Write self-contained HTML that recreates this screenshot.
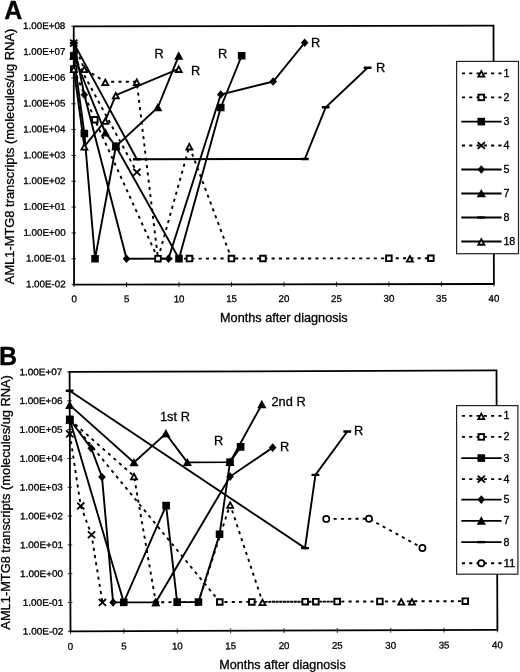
<!DOCTYPE html>
<html><head><meta charset="utf-8"><title>AML1-MTG8 transcripts</title>
<style>
html,body{margin:0;padding:0;background:#fff;}
svg{display:block;font-family:'Liberation Sans', Arial, Helvetica, sans-serif;fill:#000;}
text{stroke:#000;stroke-width:0.3px;}
</style></head><body>
<svg width="520" height="672" viewBox="0 0 520 672">
<rect width="520" height="672" fill="#fff"/>
<g transform="rotate(-0.08 283.8 155.2)">
<rect x="73.9" y="26" width="419.8" height="258.3" fill="none" stroke="#000" stroke-width="1.8"/>
<path d="M71.4 26 H75.9" stroke="#000" stroke-width="0.8"/>
<text x="65.5" y="28.7" font-size="9.5" text-anchor="end" textLength="42.2" lengthAdjust="spacingAndGlyphs">1.00E+08</text>
<path d="M71.4 51.83 H75.9" stroke="#000" stroke-width="0.8"/>
<text x="65.5" y="54.53" font-size="9.5" text-anchor="end" textLength="42.2" lengthAdjust="spacingAndGlyphs">1.00E+07</text>
<path d="M71.4 77.66 H75.9" stroke="#000" stroke-width="0.8"/>
<text x="65.5" y="80.36" font-size="9.5" text-anchor="end" textLength="42.2" lengthAdjust="spacingAndGlyphs">1.00E+06</text>
<path d="M71.4 103.49 H75.9" stroke="#000" stroke-width="0.8"/>
<text x="65.5" y="106.19" font-size="9.5" text-anchor="end" textLength="42.2" lengthAdjust="spacingAndGlyphs">1.00E+05</text>
<path d="M71.4 129.32 H75.9" stroke="#000" stroke-width="0.8"/>
<text x="65.5" y="132.02" font-size="9.5" text-anchor="end" textLength="42.2" lengthAdjust="spacingAndGlyphs">1.00E+04</text>
<path d="M71.4 155.15 H75.9" stroke="#000" stroke-width="0.8"/>
<text x="65.5" y="157.85" font-size="9.5" text-anchor="end" textLength="42.2" lengthAdjust="spacingAndGlyphs">1.00E+03</text>
<path d="M71.4 180.98 H75.9" stroke="#000" stroke-width="0.8"/>
<text x="65.5" y="183.68" font-size="9.5" text-anchor="end" textLength="42.2" lengthAdjust="spacingAndGlyphs">1.00E+02</text>
<path d="M71.4 206.81 H75.9" stroke="#000" stroke-width="0.8"/>
<text x="65.5" y="209.51" font-size="9.5" text-anchor="end" textLength="42.2" lengthAdjust="spacingAndGlyphs">1.00E+01</text>
<path d="M71.4 232.64 H75.9" stroke="#000" stroke-width="0.8"/>
<text x="65.5" y="235.34" font-size="9.5" text-anchor="end" textLength="42.2" lengthAdjust="spacingAndGlyphs">1.00E+00</text>
<path d="M71.4 258.47 H75.9" stroke="#000" stroke-width="0.8"/>
<text x="65.5" y="261.17" font-size="9.5" text-anchor="end" textLength="39.74" lengthAdjust="spacingAndGlyphs">1.00E-01</text>
<path d="M71.4 284.3 H75.9" stroke="#000" stroke-width="0.8"/>
<text x="65.5" y="287" font-size="9.5" text-anchor="end" textLength="39.74" lengthAdjust="spacingAndGlyphs">1.00E-02</text>
<path d="M73.9 281.8 V286.8" stroke="#000" stroke-width="0.8"/>
<text x="73.9" y="302" font-size="9.7" text-anchor="middle">0</text>
<path d="M126.38 281.8 V286.8" stroke="#000" stroke-width="0.8"/>
<text x="126.38" y="302" font-size="9.7" text-anchor="middle">5</text>
<path d="M178.85 281.8 V286.8" stroke="#000" stroke-width="0.8"/>
<text x="178.85" y="302" font-size="9.7" text-anchor="middle">10</text>
<path d="M231.32 281.8 V286.8" stroke="#000" stroke-width="0.8"/>
<text x="231.32" y="302" font-size="9.7" text-anchor="middle">15</text>
<path d="M283.8 281.8 V286.8" stroke="#000" stroke-width="0.8"/>
<text x="283.8" y="302" font-size="9.7" text-anchor="middle">20</text>
<path d="M336.27 281.8 V286.8" stroke="#000" stroke-width="0.8"/>
<text x="336.27" y="302" font-size="9.7" text-anchor="middle">25</text>
<path d="M388.75 281.8 V286.8" stroke="#000" stroke-width="0.8"/>
<text x="388.75" y="302" font-size="9.7" text-anchor="middle">30</text>
<path d="M441.23 281.8 V286.8" stroke="#000" stroke-width="0.8"/>
<text x="441.23" y="302" font-size="9.7" text-anchor="middle">35</text>
<path d="M493.7 281.8 V286.8" stroke="#000" stroke-width="0.8"/>
<text x="493.7" y="302" font-size="9.7" text-anchor="middle">40</text>
<path d="M73.9 42.79 L84.4 68.62 L105.39 81.53 L136.87 81.53 L157.86 258.47 L189.34 146.11 L231.32 258.47 M409.74 258.47" fill="none" stroke="#000" stroke-width="1.9" stroke-dasharray="3.1 4.2"/>
<path d="M73.9 68.62 L94.89 119.5 L157.86 258.47 L189.34 258.47 L231.32 258.47 L262.81 258.47 L388.75 258.47 L430.73 258.47" fill="none" stroke="#000" stroke-width="1.9" stroke-dasharray="3.1 4.2"/>
<path d="M73.9 55.7 L84.4 133.19 L94.89 258.47 L115.88 146.11 L178.85 258.47 L220.83 107.36 L241.82 55.7" fill="none" stroke="#000" stroke-width="1.9"/>
<path d="M73.9 42.79 M73.9 55.7 L136.87 171.94" fill="none" stroke="#000" stroke-width="1.9" stroke-dasharray="3.1 4.2"/>
<path d="M73.9 42.79 L84.4 94.45 L126.38 258.47 L168.36 258.47 L220.83 94.45 L273.3 81.53 L304.79 42.79" fill="none" stroke="#000" stroke-width="1.9"/>
<path d="M73.9 55.7 L105.39 132.42 L115.88 146.11 L157.86 107.36 L178.85 55.7" fill="none" stroke="#000" stroke-width="1.9"/>
<path d="M73.9 42.79 L136.87 159.02 L304.79 159.02 L325.78 107.36 L367.76 67.84" fill="none" stroke="#000" stroke-width="1.9"/>
<path d="M73.9 68.62 L84.4 146.11 L105.39 120.28 L115.88 94.97 L178.85 68.62" fill="none" stroke="#000" stroke-width="1.9"/>
<path d="M84.4 66.36 L87.39 71.87 L81.41 71.87 Z" fill="#fff" stroke="#000" stroke-width="1.8" stroke-linejoin="miter"/>
<path d="M105.39 79.27 L108.38 84.78 L102.4 84.78 Z" fill="#fff" stroke="#000" stroke-width="1.8" stroke-linejoin="miter"/>
<path d="M136.87 79.27 L139.86 84.78 L133.88 84.78 Z" fill="#fff" stroke="#000" stroke-width="1.8" stroke-linejoin="miter"/>
<path d="M189.34 143.85 L192.34 149.36 L186.35 149.36 Z" fill="#fff" stroke="#000" stroke-width="1.8" stroke-linejoin="miter"/>
<path d="M409.74 256.21 L412.73 261.72 L406.75 261.72 Z" fill="#fff" stroke="#000" stroke-width="1.8" stroke-linejoin="miter"/>
<rect x="71.1" y="65.82" width="5.6" height="5.6" fill="#fff" stroke="#000" stroke-width="1.9"/>
<rect x="92.09" y="116.7" width="5.6" height="5.6" fill="#fff" stroke="#000" stroke-width="1.9"/>
<rect x="155.06" y="255.67" width="5.6" height="5.6" fill="#fff" stroke="#000" stroke-width="1.9"/>
<rect x="186.54" y="255.67" width="5.6" height="5.6" fill="#fff" stroke="#000" stroke-width="1.9"/>
<rect x="228.52" y="255.67" width="5.6" height="5.6" fill="#fff" stroke="#000" stroke-width="1.9"/>
<rect x="260.01" y="255.67" width="5.6" height="5.6" fill="#fff" stroke="#000" stroke-width="1.9"/>
<rect x="385.95" y="255.67" width="5.6" height="5.6" fill="#fff" stroke="#000" stroke-width="1.9"/>
<rect x="427.93" y="255.67" width="5.6" height="5.6" fill="#fff" stroke="#000" stroke-width="1.9"/>
<rect x="70.1" y="51.9" width="7.6" height="7.6" fill="#000"/>
<rect x="80.6" y="129.39" width="7.6" height="7.6" fill="#000"/>
<rect x="91.09" y="254.67" width="7.6" height="7.6" fill="#000"/>
<rect x="112.08" y="142.31" width="7.6" height="7.6" fill="#000"/>
<rect x="175.05" y="254.67" width="7.6" height="7.6" fill="#000"/>
<rect x="217.03" y="103.56" width="7.6" height="7.6" fill="#000"/>
<rect x="238.02" y="51.9" width="7.6" height="7.6" fill="#000"/>
<path d="M70.3 39.39 L77.5 46.19 M70.3 46.19 L77.5 39.39" stroke="#000" stroke-width="1.8" fill="none"/>
<path d="M70.3 52.3 L77.5 59.1 M70.3 59.1 L77.5 52.3" stroke="#000" stroke-width="1.8" fill="none"/>
<path d="M133.27 168.54 L140.47 175.34 M133.27 175.34 L140.47 168.54" stroke="#000" stroke-width="1.8" fill="none"/>
<path d="M73.9 38.49 L77.7 42.79 L73.9 47.09 L70.1 42.79 Z" fill="#000"/>
<path d="M84.4 90.15 L88.2 94.45 L84.4 98.75 L80.6 94.45 Z" fill="#000"/>
<path d="M126.38 254.17 L130.18 258.47 L126.38 262.77 L122.58 258.47 Z" fill="#000"/>
<path d="M168.36 254.17 L172.16 258.47 L168.36 262.77 L164.56 258.47 Z" fill="#000"/>
<path d="M220.83 90.15 L224.63 94.45 L220.83 98.75 L217.03 94.45 Z" fill="#000"/>
<path d="M273.3 77.23 L277.1 81.53 L273.3 85.83 L269.5 81.53 Z" fill="#000"/>
<path d="M304.79 38.49 L308.59 42.79 L304.79 47.09 L300.99 42.79 Z" fill="#000"/>
<path d="M73.9 51.1 L78.5 59.5 L69.3 59.5 Z" fill="#000"/>
<path d="M105.39 127.82 L109.98 136.22 L100.79 136.22 Z" fill="#000"/>
<path d="M115.88 141.51 L120.48 149.91 L111.28 149.91 Z" fill="#000"/>
<path d="M157.86 102.76 L162.46 111.16 L153.26 111.16 Z" fill="#000"/>
<path d="M178.85 51.1 L183.45 59.5 L174.25 59.5 Z" fill="#000"/>
<path d="M70 42.79 L77.8 42.79" stroke="#000" stroke-width="2.4"/>
<path d="M132.97 159.02 L140.77 159.02" stroke="#000" stroke-width="2.4"/>
<path d="M300.89 159.02 L308.69 159.02" stroke="#000" stroke-width="2.4"/>
<path d="M321.88 107.36 L329.68 107.36" stroke="#000" stroke-width="2.4"/>
<path d="M363.86 67.84 L371.66 67.84" stroke="#000" stroke-width="2.4"/>
<path d="M73.9 66.36 L76.89 71.87 L70.91 71.87 Z" fill="#fff" stroke="#000" stroke-width="1.8" stroke-linejoin="miter"/>
<path d="M84.4 143.85 L87.39 149.36 L81.41 149.36 Z" fill="#fff" stroke="#000" stroke-width="1.8" stroke-linejoin="miter"/>
<path d="M105.39 118.02 L108.38 123.53 L102.4 123.53 Z" fill="#fff" stroke="#000" stroke-width="1.8" stroke-linejoin="miter"/>
<path d="M115.88 92.71 L118.87 98.22 L112.89 98.22 Z" fill="#fff" stroke="#000" stroke-width="1.8" stroke-linejoin="miter"/>
<path d="M178.85 66.36 L181.84 71.87 L175.86 71.87 Z" fill="#fff" stroke="#000" stroke-width="1.8" stroke-linejoin="miter"/>
</g>
<text x="220" y="322.3" font-size="12.8" text-anchor="start" textLength="127.7" lengthAdjust="spacingAndGlyphs">Months after diagnosis</text>
<text transform="translate(13.8 156.45) rotate(-90)" font-size="12.8" text-anchor="middle" textLength="255.5" lengthAdjust="spacingAndGlyphs">AML1-MTG8 transcripts (molecules/ug RNA)</text>
<text x="154.6" y="57.8" font-size="12.8" text-anchor="start">R</text>
<text x="191" y="74.8" font-size="12.8" text-anchor="start">R</text>
<text x="218" y="58.3" font-size="12.8" text-anchor="start">R</text>
<text x="311" y="47" font-size="12.8" text-anchor="start">R</text>
<text x="376" y="72" font-size="12.8" text-anchor="start">R</text>
<rect x="456.6" y="61.4" width="61.9" height="192.3" fill="#fff" stroke="#222" stroke-width="1.2"/>
<path d="M461.3 73.4 H501.6" fill="none" stroke="#000" stroke-width="1.9" stroke-dasharray="3.1 4.2" stroke-dashoffset="6.7"/>
<path d="M481.3 71.14 L484.29 76.65 L478.31 76.65 Z" fill="#fff" stroke="#000" stroke-width="1.8" stroke-linejoin="miter"/>
<text x="503.4" y="76.9" font-size="10.2" text-anchor="start" textLength="5.95" lengthAdjust="spacingAndGlyphs">1</text>
<path d="M461.3 97.4 H501.6" fill="none" stroke="#000" stroke-width="1.9" stroke-dasharray="3.1 4.2" stroke-dashoffset="6.7"/>
<rect x="478.5" y="94.6" width="5.6" height="5.6" fill="#fff" stroke="#000" stroke-width="1.9"/>
<text x="503.4" y="100.9" font-size="10.2" text-anchor="start" textLength="5.95" lengthAdjust="spacingAndGlyphs">2</text>
<path d="M461.3 121.6 H501.6" fill="none" stroke="#000" stroke-width="1.9"/>
<rect x="477.5" y="117.8" width="7.6" height="7.6" fill="#000"/>
<text x="503.4" y="125.1" font-size="10.2" text-anchor="start" textLength="5.95" lengthAdjust="spacingAndGlyphs">3</text>
<path d="M461.3 145.5 H501.6" fill="none" stroke="#000" stroke-width="1.9" stroke-dasharray="3.1 4.2" stroke-dashoffset="6.7"/>
<path d="M477.7 142.1 L484.9 148.9 M477.7 148.9 L484.9 142.1" stroke="#000" stroke-width="1.8" fill="none"/>
<text x="503.4" y="149" font-size="10.2" text-anchor="start" textLength="5.95" lengthAdjust="spacingAndGlyphs">4</text>
<path d="M461.3 169.5 H501.6" fill="none" stroke="#000" stroke-width="1.9"/>
<path d="M481.3 165.2 L485.1 169.5 L481.3 173.8 L477.5 169.5 Z" fill="#000"/>
<text x="503.4" y="173" font-size="10.2" text-anchor="start" textLength="5.95" lengthAdjust="spacingAndGlyphs">5</text>
<path d="M461.3 193.5 H501.6" fill="none" stroke="#000" stroke-width="1.9"/>
<path d="M481.3 188.9 L485.9 197.3 L476.7 197.3 Z" fill="#000"/>
<text x="503.4" y="197" font-size="10.2" text-anchor="start" textLength="5.95" lengthAdjust="spacingAndGlyphs">7</text>
<path d="M461.3 217.5 H501.6" fill="none" stroke="#000" stroke-width="1.9"/>
<path d="M477.4 217.5 L485.2 217.5" stroke="#000" stroke-width="2.4"/>
<text x="503.4" y="221" font-size="10.2" text-anchor="start" textLength="5.95" lengthAdjust="spacingAndGlyphs">8</text>
<path d="M461.3 241.5 H501.6" fill="none" stroke="#000" stroke-width="1.9"/>
<path d="M481.3 239.24 L484.29 244.75 L478.31 244.75 Z" fill="#fff" stroke="#000" stroke-width="1.8" stroke-linejoin="miter"/>
<text x="503.4" y="245" font-size="10.2" text-anchor="start" textLength="11.91" lengthAdjust="spacingAndGlyphs">18</text>
<text x="4.2" y="18.5" font-size="25" text-anchor="start" font-weight="bold">A</text>
<g transform="rotate(-0.2 283.5 500.9)">
<rect x="70.05" y="371.2" width="426.9" height="259.4" fill="none" stroke="#000" stroke-width="1.8"/>
<path d="M67.55 371.2 H72.05" stroke="#000" stroke-width="0.8"/>
<text x="62.85" y="374.3" font-size="9.3" text-anchor="end" textLength="43" lengthAdjust="spacingAndGlyphs">1.00E+07</text>
<path d="M67.55 400.02 H72.05" stroke="#000" stroke-width="0.8"/>
<text x="62.85" y="403.12" font-size="9.3" text-anchor="end" textLength="43" lengthAdjust="spacingAndGlyphs">1.00E+06</text>
<path d="M67.55 428.84 H72.05" stroke="#000" stroke-width="0.8"/>
<text x="62.85" y="431.94" font-size="9.3" text-anchor="end" textLength="43" lengthAdjust="spacingAndGlyphs">1.00E+05</text>
<path d="M67.55 457.67 H72.05" stroke="#000" stroke-width="0.8"/>
<text x="62.85" y="460.77" font-size="9.3" text-anchor="end" textLength="43" lengthAdjust="spacingAndGlyphs">1.00E+04</text>
<path d="M67.55 486.49 H72.05" stroke="#000" stroke-width="0.8"/>
<text x="62.85" y="489.59" font-size="9.3" text-anchor="end" textLength="43" lengthAdjust="spacingAndGlyphs">1.00E+03</text>
<path d="M67.55 515.31 H72.05" stroke="#000" stroke-width="0.8"/>
<text x="62.85" y="518.41" font-size="9.3" text-anchor="end" textLength="43" lengthAdjust="spacingAndGlyphs">1.00E+02</text>
<path d="M67.55 544.13 H72.05" stroke="#000" stroke-width="0.8"/>
<text x="62.85" y="547.23" font-size="9.3" text-anchor="end" textLength="43" lengthAdjust="spacingAndGlyphs">1.00E+01</text>
<path d="M67.55 572.96 H72.05" stroke="#000" stroke-width="0.8"/>
<text x="62.85" y="576.06" font-size="9.3" text-anchor="end" textLength="43" lengthAdjust="spacingAndGlyphs">1.00E+00</text>
<path d="M67.55 601.78 H72.05" stroke="#000" stroke-width="0.8"/>
<text x="62.85" y="604.88" font-size="9.3" text-anchor="end" textLength="40.5" lengthAdjust="spacingAndGlyphs">1.00E-01</text>
<path d="M67.55 630.6 H72.05" stroke="#000" stroke-width="0.8"/>
<text x="62.85" y="633.7" font-size="9.3" text-anchor="end" textLength="40.5" lengthAdjust="spacingAndGlyphs">1.00E-02</text>
<path d="M70.05 628.1 V633.1" stroke="#000" stroke-width="0.8"/>
<text x="70.05" y="649" font-size="9.7" text-anchor="middle">0</text>
<path d="M123.41 628.1 V633.1" stroke="#000" stroke-width="0.8"/>
<text x="123.41" y="649" font-size="9.7" text-anchor="middle">5</text>
<path d="M176.77 628.1 V633.1" stroke="#000" stroke-width="0.8"/>
<text x="176.77" y="649" font-size="9.7" text-anchor="middle">10</text>
<path d="M230.14 628.1 V633.1" stroke="#000" stroke-width="0.8"/>
<text x="230.14" y="649" font-size="9.7" text-anchor="middle">15</text>
<path d="M283.5 628.1 V633.1" stroke="#000" stroke-width="0.8"/>
<text x="283.5" y="649" font-size="9.7" text-anchor="middle">20</text>
<path d="M336.86 628.1 V633.1" stroke="#000" stroke-width="0.8"/>
<text x="336.86" y="649" font-size="9.7" text-anchor="middle">25</text>
<path d="M390.22 628.1 V633.1" stroke="#000" stroke-width="0.8"/>
<text x="390.22" y="649" font-size="9.7" text-anchor="middle">30</text>
<path d="M443.59 628.1 V633.1" stroke="#000" stroke-width="0.8"/>
<text x="443.59" y="649" font-size="9.7" text-anchor="middle">35</text>
<path d="M496.95 628.1 V633.1" stroke="#000" stroke-width="0.8"/>
<text x="496.95" y="649" font-size="9.7" text-anchor="middle">40</text>
<path d="M70.05 418.76 L134.08 475.54 L155.43 601.78 L198.12 601.78 L230.14 504.36 L262.15 601.78 M400.9 601.78 M411.57 601.78" fill="none" stroke="#000" stroke-width="1.9" stroke-dasharray="3.1 4.2"/>
<path d="M70.05 418.76 L219.46 601.78 L251.48 601.78 L304.84 601.78 L315.52 601.78 L336.86 601.78 L379.55 601.78 L464.93 601.78" fill="none" stroke="#000" stroke-width="1.9" stroke-dasharray="3.1 4.2"/>
<path d="M70.05 418.76 L123.41 601.78 L166.1 505.22 L176.77 601.78 L198.12 601.78 L219.46 534.05 L230.14 461.99 L240.81 446.71" fill="none" stroke="#000" stroke-width="1.9"/>
<path d="M70.05 433.17 L80.72 505.22 L91.39 534.05 L102.07 601.78" fill="none" stroke="#000" stroke-width="1.9" stroke-dasharray="3.1 4.2"/>
<path d="M70.05 418.76 L91.39 447.58 L102.07 476.4 L112.74 601.78 L155.43 601.78 L230.14 476.4 L272.83 447.58" fill="none" stroke="#000" stroke-width="1.9"/>
<path d="M70.05 404.35 L134.08 461.99 L166.1 433.17 L187.45 461.99 L230.14 461.99 L262.15 404.35" fill="none" stroke="#000" stroke-width="1.9"/>
<path d="M70.05 389.93 L304.84 548.17 L315.52 474.96 L347.54 431.73" fill="none" stroke="#000" stroke-width="1.9"/>
<path d="M326.19 519.06 L368.88 519.06 L422.24 548.46" fill="none" stroke="#000" stroke-width="1.9" stroke-dasharray="3.1 4.2"/>
<path d="M262.15 601.78 H336.86" fill="none" stroke="#000" stroke-width="1.9" stroke-dasharray="3.1 4.2" stroke-dashoffset="5.21"/>
<path d="M70.05 416.5 L73.04 422.01 L67.06 422.01 Z" fill="#fff" stroke="#000" stroke-width="1.8" stroke-linejoin="miter"/>
<path d="M134.08 473.28 L137.07 478.79 L131.09 478.79 Z" fill="#fff" stroke="#000" stroke-width="1.8" stroke-linejoin="miter"/>
<path d="M155.43 599.52 L158.42 605.03 L152.44 605.03 Z" fill="#fff" stroke="#000" stroke-width="1.8" stroke-linejoin="miter"/>
<path d="M230.14 502.1 L233.13 507.61 L227.15 507.61 Z" fill="#fff" stroke="#000" stroke-width="1.8" stroke-linejoin="miter"/>
<path d="M262.15 599.52 L265.14 605.03 L259.16 605.03 Z" fill="#fff" stroke="#000" stroke-width="1.8" stroke-linejoin="miter"/>
<path d="M400.9 599.52 L403.89 605.03 L397.91 605.03 Z" fill="#fff" stroke="#000" stroke-width="1.8" stroke-linejoin="miter"/>
<path d="M411.57 599.52 L414.56 605.03 L408.58 605.03 Z" fill="#fff" stroke="#000" stroke-width="1.8" stroke-linejoin="miter"/>
<rect x="67.25" y="415.96" width="5.6" height="5.6" fill="#fff" stroke="#000" stroke-width="1.9"/>
<rect x="216.66" y="598.98" width="5.6" height="5.6" fill="#fff" stroke="#000" stroke-width="1.9"/>
<rect x="248.68" y="598.98" width="5.6" height="5.6" fill="#fff" stroke="#000" stroke-width="1.9"/>
<rect x="302.04" y="598.98" width="5.6" height="5.6" fill="#fff" stroke="#000" stroke-width="1.9"/>
<rect x="312.72" y="598.98" width="5.6" height="5.6" fill="#fff" stroke="#000" stroke-width="1.9"/>
<rect x="334.06" y="598.98" width="5.6" height="5.6" fill="#fff" stroke="#000" stroke-width="1.9"/>
<rect x="376.75" y="598.98" width="5.6" height="5.6" fill="#fff" stroke="#000" stroke-width="1.9"/>
<rect x="462.13" y="598.98" width="5.6" height="5.6" fill="#fff" stroke="#000" stroke-width="1.9"/>
<rect x="66.25" y="414.96" width="7.6" height="7.6" fill="#000"/>
<rect x="119.61" y="597.98" width="7.6" height="7.6" fill="#000"/>
<rect x="162.3" y="501.42" width="7.6" height="7.6" fill="#000"/>
<rect x="172.97" y="597.98" width="7.6" height="7.6" fill="#000"/>
<rect x="194.32" y="597.98" width="7.6" height="7.6" fill="#000"/>
<rect x="215.66" y="530.25" width="7.6" height="7.6" fill="#000"/>
<rect x="226.34" y="458.19" width="7.6" height="7.6" fill="#000"/>
<rect x="237.01" y="442.91" width="7.6" height="7.6" fill="#000"/>
<path d="M66.45 429.77 L73.65 436.57 M66.45 436.57 L73.65 429.77" stroke="#000" stroke-width="1.8" fill="none"/>
<path d="M77.12 501.82 L84.32 508.62 M77.12 508.62 L84.32 501.82" stroke="#000" stroke-width="1.8" fill="none"/>
<path d="M87.8 530.65 L94.99 537.45 M87.8 537.45 L94.99 530.65" stroke="#000" stroke-width="1.8" fill="none"/>
<path d="M98.47 598.38 L105.67 605.18 M98.47 605.18 L105.67 598.38" stroke="#000" stroke-width="1.8" fill="none"/>
<path d="M70.05 414.46 L73.85 418.76 L70.05 423.06 L66.25 418.76 Z" fill="#000"/>
<path d="M91.39 443.28 L95.19 447.58 L91.39 451.88 L87.59 447.58 Z" fill="#000"/>
<path d="M102.07 472.1 L105.87 476.4 L102.07 480.7 L98.27 476.4 Z" fill="#000"/>
<path d="M112.74 597.48 L116.54 601.78 L112.74 606.08 L108.94 601.78 Z" fill="#000"/>
<path d="M155.43 597.48 L159.23 601.78 L155.43 606.08 L151.63 601.78 Z" fill="#000"/>
<path d="M230.14 472.1 L233.94 476.4 L230.14 480.7 L226.34 476.4 Z" fill="#000"/>
<path d="M272.83 443.28 L276.63 447.58 L272.83 451.88 L269.03 447.58 Z" fill="#000"/>
<path d="M70.05 399.75 L74.65 408.15 L65.45 408.15 Z" fill="#000"/>
<path d="M134.08 457.39 L138.68 465.79 L129.48 465.79 Z" fill="#000"/>
<path d="M166.1 428.57 L170.7 436.97 L161.5 436.97 Z" fill="#000"/>
<path d="M187.45 457.39 L192.05 465.79 L182.85 465.79 Z" fill="#000"/>
<path d="M230.14 457.39 L234.74 465.79 L225.54 465.79 Z" fill="#000"/>
<path d="M262.15 399.75 L266.75 408.15 L257.55 408.15 Z" fill="#000"/>
<path d="M66.15 389.93 L73.95 389.93" stroke="#000" stroke-width="2.4"/>
<path d="M300.94 548.17 L308.74 548.17" stroke="#000" stroke-width="2.4"/>
<path d="M311.62 474.96 L319.42 474.96" stroke="#000" stroke-width="2.4"/>
<path d="M343.64 431.73 L351.44 431.73" stroke="#000" stroke-width="2.4"/>
<circle cx="326.19" cy="519.06" r="3.1" fill="#fff" stroke="#000" stroke-width="1.7"/>
<circle cx="368.88" cy="519.06" r="3.1" fill="#fff" stroke="#000" stroke-width="1.7"/>
<circle cx="422.24" cy="548.46" r="3.1" fill="#fff" stroke="#000" stroke-width="1.7"/>
</g>
<text x="219.2" y="668.5" font-size="12.8" text-anchor="start" textLength="126.5" lengthAdjust="spacingAndGlyphs">Months after diagnosis</text>
<text transform="translate(10 502.4) rotate(-90)" font-size="12.8" text-anchor="middle" textLength="254.5" lengthAdjust="spacingAndGlyphs">AML1-MTG8 transcripts (molecules/ug RNA)</text>
<text x="160" y="421" font-size="12.8" text-anchor="start">1st R</text>
<text x="214" y="444.5" font-size="12.8" text-anchor="start">R</text>
<text x="271.5" y="406" font-size="12.8" text-anchor="start">2nd R</text>
<text x="280" y="451" font-size="12.8" text-anchor="start">R</text>
<text x="354" y="434.5" font-size="12.8" text-anchor="start">R</text>
<rect x="456.6" y="405.6" width="61.3" height="168.6" fill="#fff" stroke="#222" stroke-width="1.2"/>
<path d="M461.3 415.9 H501.6" fill="none" stroke="#000" stroke-width="1.9" stroke-dasharray="3.1 4.2" stroke-dashoffset="6.7"/>
<path d="M481.3 413.64 L484.29 419.15 L478.31 419.15 Z" fill="#fff" stroke="#000" stroke-width="1.8" stroke-linejoin="miter"/>
<text x="503.4" y="419.4" font-size="10.2" text-anchor="start" textLength="5.95" lengthAdjust="spacingAndGlyphs">1</text>
<path d="M461.3 436.9 H501.6" fill="none" stroke="#000" stroke-width="1.9" stroke-dasharray="3.1 4.2" stroke-dashoffset="6.7"/>
<rect x="478.5" y="434.1" width="5.6" height="5.6" fill="#fff" stroke="#000" stroke-width="1.9"/>
<text x="503.4" y="440.4" font-size="10.2" text-anchor="start" textLength="5.95" lengthAdjust="spacingAndGlyphs">2</text>
<path d="M461.3 458.1 H501.6" fill="none" stroke="#000" stroke-width="1.9"/>
<rect x="477.5" y="454.3" width="7.6" height="7.6" fill="#000"/>
<text x="503.4" y="461.6" font-size="10.2" text-anchor="start" textLength="5.95" lengthAdjust="spacingAndGlyphs">3</text>
<path d="M461.3 479.1 H501.6" fill="none" stroke="#000" stroke-width="1.9" stroke-dasharray="3.1 4.2" stroke-dashoffset="6.7"/>
<path d="M477.7 475.7 L484.9 482.5 M477.7 482.5 L484.9 475.7" stroke="#000" stroke-width="1.8" fill="none"/>
<text x="503.4" y="482.6" font-size="10.2" text-anchor="start" textLength="5.95" lengthAdjust="spacingAndGlyphs">4</text>
<path d="M461.3 499.6 H501.6" fill="none" stroke="#000" stroke-width="1.9"/>
<path d="M481.3 495.3 L485.1 499.6 L481.3 503.9 L477.5 499.6 Z" fill="#000"/>
<text x="503.4" y="503.1" font-size="10.2" text-anchor="start" textLength="5.95" lengthAdjust="spacingAndGlyphs">5</text>
<path d="M461.3 520.9 H501.6" fill="none" stroke="#000" stroke-width="1.9"/>
<path d="M481.3 516.3 L485.9 524.7 L476.7 524.7 Z" fill="#000"/>
<text x="503.4" y="524.4" font-size="10.2" text-anchor="start" textLength="5.95" lengthAdjust="spacingAndGlyphs">7</text>
<path d="M461.3 542.1 H501.6" fill="none" stroke="#000" stroke-width="1.9"/>
<path d="M477.4 542.1 L485.2 542.1" stroke="#000" stroke-width="2.4"/>
<text x="503.4" y="545.6" font-size="10.2" text-anchor="start" textLength="5.95" lengthAdjust="spacingAndGlyphs">8</text>
<path d="M461.3 563.3 H501.6" fill="none" stroke="#000" stroke-width="1.9" stroke-dasharray="3.1 4.2" stroke-dashoffset="6.7"/>
<circle cx="481.3" cy="563.3" r="3.1" fill="#fff" stroke="#000" stroke-width="1.7"/>
<text x="503.4" y="566.8" font-size="10.2" text-anchor="start" textLength="11.91" lengthAdjust="spacingAndGlyphs">11</text>
<text x="-1" y="364.6" font-size="25" text-anchor="start" font-weight="bold">B</text>
</svg>
</body></html>
